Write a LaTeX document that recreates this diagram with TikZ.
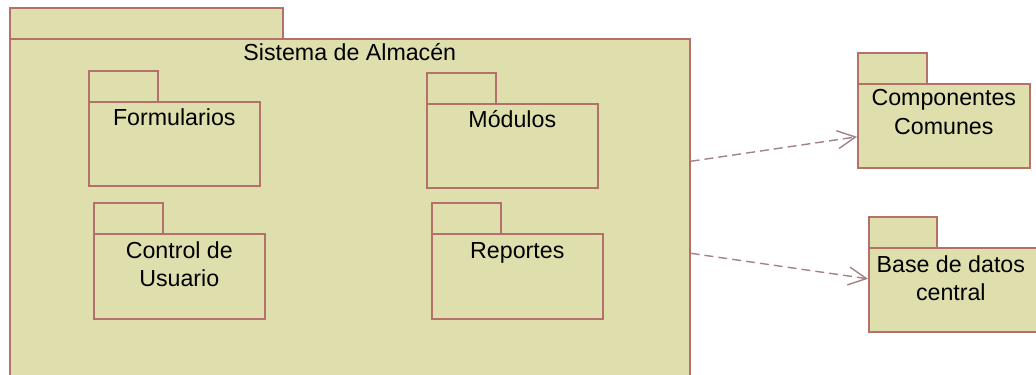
\documentclass[tikz,border=0pt]{standalone}
\usepackage{fontspec}
\setmainfont{Liberation Sans}
\usetikzlibrary{arrows.meta}
\definecolor{pkgfill}{HTML}{DFDFAD}
\definecolor{pkgline}{HTML}{B4706A}
\definecolor{depline}{HTML}{A08287}
\tikzset{
    pkg/.style={draw=pkgline, fill=pkgfill, line width=0.8pt, inner sep=0pt, anchor=north west},
    pkgname/.style={anchor=base, align=center, inner sep=0pt, font=\fontsize{11.6}{14.3}\selectfont},
    dep/.style={draw=depline, line width=0.7pt, dash pattern=on 4.5pt off 2.5pt, -{Straight Barb[length=9pt, width=9pt]}}
}
\begin{document}
\begin{tikzpicture}[x=0.5pt, y=-0.5pt]
            \useasboundingbox (0,0) rectangle (1036,374);
            \clip (0,0) rectangle (1036,374);
            % Sistema de Almacen
            \node (alm-tab) at (9,7) [pkg, minimum width=136.5pt, minimum height=15.5pt] {};
            \node (alm) at (9,38) [pkg, minimum width=340pt, minimum height=172.5pt] {};
            \node (alm-name) at ([yshift=-11.5pt]alm.north) [pkgname] {Sistema de Almac\'en};
            % paquetes internos
            \node (form-tab) at (88,70) [pkg, minimum width=34.5pt, minimum height=15.5pt] {};
            \node (form) at (88,101) [pkg, minimum width=85.5pt, minimum height=42pt] {};
            \node (form-name) at ([yshift=-12.5pt]form.north) [pkgname] {Formularios};
            \node (mod-tab) at (426,72) [pkg, minimum width=34.5pt, minimum height=15.5pt] {};
            \node (mod) at (426,103) [pkg, minimum width=85.5pt, minimum height=42pt] {};
            \node (mod-name) at ([yshift=-12pt]mod.north) [pkgname] {M\'odulos};
            \node (ctrl-tab) at (93,202) [pkg, minimum width=34.5pt, minimum height=15.5pt] {};
            \node (ctrl) at (93,233) [pkg, minimum width=85.5pt, minimum height=42.5pt] {};
            \node (ctrl-name) at ([yshift=-26.8pt]ctrl.north) [pkgname] {Control de\\Usuario};
            \node (rep-tab) at (431,202) [pkg, minimum width=34.5pt, minimum height=15.5pt] {};
            \node (rep) at (431,233) [pkg, minimum width=85.5pt, minimum height=42.5pt] {};
            \node (rep-name) at ([yshift=-12.5pt]rep.north) [pkgname] {Reportes};
            % paquetes externos
            \node (comp-tab) at (857,52) [pkg, minimum width=34.5pt, minimum height=15.5pt] {};
            \node (comp) at (857,83) [pkg, minimum width=86pt, minimum height=42pt] {};
            \node (comp-name) at ([yshift=-25.8pt]comp.north) [pkgname] {Componentes\\Comunes};
            \node (bd-tab) at (868,216) [pkg, minimum width=34pt, minimum height=15.5pt] {};
            \node (bd) at (868,247) [pkg, minimum width=86pt, minimum height=42pt] {};
            \node (bd-name) at ([xshift=-2pt, yshift=-26.8pt]bd.north) [pkgname] {Base de datos\\central};
            % dependencias
            \draw[dep] ([yshift=25pt]alm.east) -- ([yshift=-5.5pt]comp.west);
            \draw[dep] ([yshift=-21pt]alm.east) -- ([yshift=5.5pt]bd.west);
        \end{tikzpicture}
\end{document}
